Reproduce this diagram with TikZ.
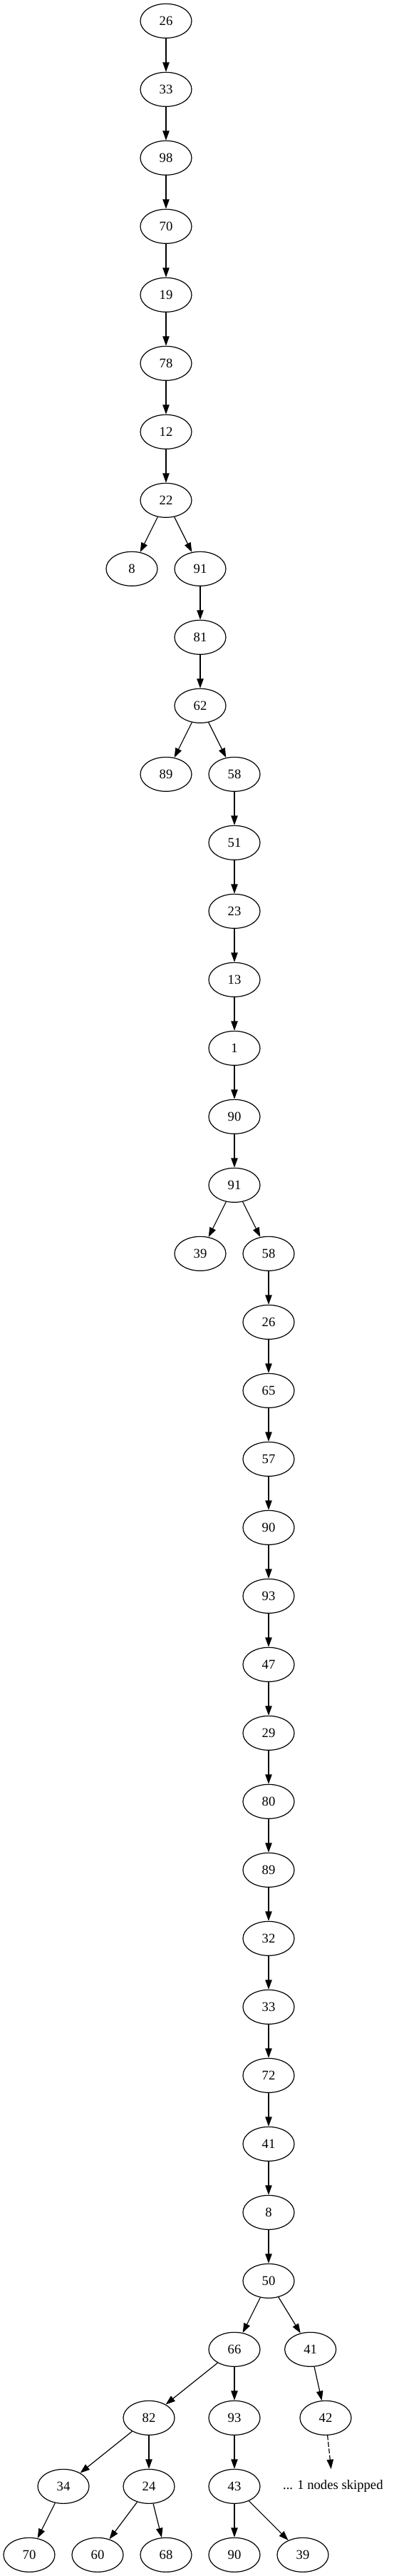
\documentclass[tikz,border=0pt]{standalone}
\usepackage{fontspec}
\setmainfont{Liberation Serif}
\usetikzlibrary{shapes.geometric,arrows.meta}
\begin{document}
\begin{tikzpicture}[x=1pt,y=1pt,
  tn/.style={ellipse,draw,line width=0.9pt,minimum width=54pt,minimum height=36pt,inner sep=0pt,font=\fontsize{14pt}{16pt}\selectfont},
  sk/.style={rectangle,minimum height=36pt,inner sep=0pt,font=\fontsize{14pt}{16pt}\selectfont},
  arr/.style={-{Triangle[length=10pt,width=7pt]},line width=0.9pt},
  darr/.style={arr,dash pattern=on 5pt off 2pt}]
\useasboundingbox (0,0) rectangle (414.75,-2708.25);
% main chain
\foreach \r/\x/\l in {0/174.75/26,1/174.75/33,2/174.75/98,3/174.75/70,4/174.75/19,5/174.75/78,6/174.75/12,7/174.75/22,
  8/210.75/91,9/210.75/81,10/210.75/62,
  11/246.75/58,12/246.75/51,13/246.75/23,14/246.75/13,15/246.75/1,16/246.75/90,17/246.75/91,
  18/282.75/58,19/282.75/26,20/282.75/65,21/282.75/57,22/282.75/90,23/282.75/93,24/282.75/47,25/282.75/29,
  26/282.75/80,27/282.75/89,28/282.75/32,29/282.75/33,30/282.75/72,31/282.75/41,32/282.75/8,33/282.75/50}
  \node[tn] (m\r) at (\x,{-22-72*\r}) {\l};
% side leaves
\node[tn] (s8) at (138.75,{-22-72*8}) {8};
\node[tn] (s11) at (174.75,{-22-72*11}) {89};
\node[tn] (s18) at (210.75,{-22-72*18}) {39};
% bottom subtree
\node[tn] (c66) at (246.75,{-22-72*34}) {66};
\node[tn] (c41) at (326.75,{-22-72*34}) {41};
\node[tn] (c82) at (156.75,{-22-72*35}) {82};
\node[tn] (c93) at (246.75,{-22-72*35}) {93};
\node[tn] (c42) at (342.75,{-22-72*35}) {42};
\node[tn] (c34) at (66.75,{-22-72*36}) {34};
\node[tn] (c24) at (156.75,{-22-72*36}) {24};
\node[tn] (c43) at (246.75,{-22-72*36}) {43};
\node[sk] (skip) at (350.5,{-22-72*36}) {... 1 nodes skipped};
\node[tn] (c70) at (30.75,{-22-72*37}) {70};
\node[tn] (c60) at (102.75,{-22-72*37}) {60};
\node[tn] (c68) at (174.75,{-22-72*37}) {68};
\node[tn] (c90) at (246.75,{-22-72*37}) {90};
\node[tn] (c39) at (318.75,{-22-72*37}) {39};
% edges
\foreach \r [evaluate=\r as \n using int(\r+1)] in {0,...,32}
  \draw[arr] (m\r) -- (m\n);
\draw[arr] (m7) -- (s8);
\draw[arr] (m10) -- (s11);
\draw[arr] (m17) -- (s18);
\draw[arr] (m33) -- (c66);
\draw[arr] (m33) -- (c41);
\draw[arr] (c66) -- (c82);
\draw[arr] (c66) -- (c93);
\draw[arr] (c41) -- (c42);
\draw[arr] (c82) -- (c34);
\draw[arr] (c82) -- (c24);
\draw[arr] (c93) -- (c43);
\draw[darr] (c42) -- (skip);
\draw[arr] (c34) -- (c70);
\draw[arr] (c24) -- (c60);
\draw[arr] (c24) -- (c68);
\draw[arr] (c43) -- (c90);
\draw[arr] (c43) -- (c39);
\end{tikzpicture}
\end{document}
